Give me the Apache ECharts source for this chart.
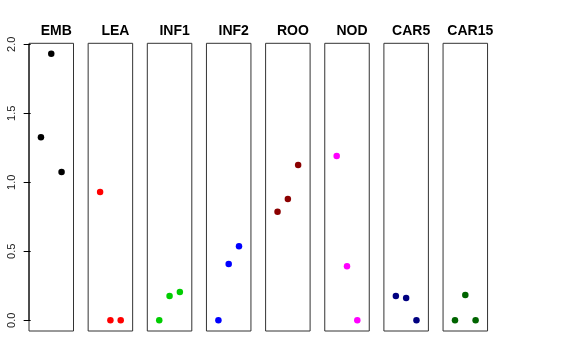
<!DOCTYPE html>
<html>
<head>
<meta charset="utf-8">
<script src="https://cdn.jsdelivr.net/npm/echarts@6/dist/echarts.min.js"></script>
<style>html,body{margin:0;padding:0;background:#fff;}#c{width:576px;height:360px;}</style>
</head>
<body>
<div id="c"></div>
<script>
const panels = ['EMB', 'LEA', 'INF1', 'INF2', 'ROO', 'NOD', 'CAR5', 'CAR15'];
const colors = ['#000000', '#FF0000', '#00CD00', '#0000FF', '#8B0000', '#FF00FF', '#000080', '#006400'];
const xPositions = [1, 2, 3];
const EMB = [1.326, 1.932, 1.075];
const LEA = [0.930, 0, 0];
const INF1 = [0, 0.176, 0.205];
const INF2 = [0, 0.408, 0.536];
const ROO = [0.787, 0.879, 1.125];
const NOD = [1.190, 0.391, 0];
const CAR5 = [0.176, 0.162, 0];
const CAR15 = [0, 0.183, 0];
const values = [EMB, LEA, INF1, INF2, ROO, NOD, CAR5, CAR15];
const yTicks = [0, 0.5, 1.0, 1.5, 2.0];

const chart = echarts.init(document.getElementById('c'), null, {renderer: 'canvas'});
const gLeft0 = 29, gStep = 59.15, gW = 44.5, gTop = 43.3, gH = 287.7;
const grids = [], xAxes = [], yAxes = [], seriesList = [], titles = [];
panels.forEach((p, i) => {
  const l = gLeft0 + i * gStep;
  grids.push({left: l, top: gTop, width: gW, height: gH, show: true, borderColor: '#333', borderWidth: 1, backgroundColor: 'transparent'});
  xAxes.push({gridIndex: i, type: 'value', min: -0.16, max: 4.16, show: false});
  yAxes.push({
    gridIndex: i, type: 'value', min: -0.0775, max: 2.007, interval: 0.5,
    show: i === 0,
    splitLine: {show: false},
    axisLine: {show: false},
    axisTick: {show: true, length: 7, lineStyle: {color: '#000'}, customValues: yTicks},
    axisLabel: {show: true, rotate: 90, fontSize: 11, color: '#222', fontFamily: 'Liberation Sans', margin: 12,
      customValues: yTicks, formatter: v => v.toFixed(1)}
  });
  seriesList.push({
    type: 'scatter', xAxisIndex: i, yAxisIndex: i, symbol: 'circle', symbolSize: 6.5,
    itemStyle: {color: colors[i], opacity: 1},
    data: xPositions.map((x, k) => [x, values[i][k]]),
    silent: true
  });
  titles.push({text: p, left: l + gW / 2, top: 19, textAlign: 'center',
    textStyle: {fontSize: 14, fontWeight: 'bold', color: '#000', fontFamily: 'Liberation Sans'}});
});
chart.setOption({
  animation: false,
  title: titles,
  grid: grids,
  xAxis: xAxes,
  yAxis: yAxes,
  series: seriesList
});
const p0 = chart.convertToPixel({gridIndex: 0}, [0, 0]);
const p2 = chart.convertToPixel({gridIndex: 0}, [0, 2]);
chart.setOption({graphic: [{type: 'line', shape: {x1: gLeft0, y1: p0[1], x2: gLeft0, y2: p2[1]}, style: {stroke: '#000', lineWidth: 1}}]});
</script>
</body>
</html>
